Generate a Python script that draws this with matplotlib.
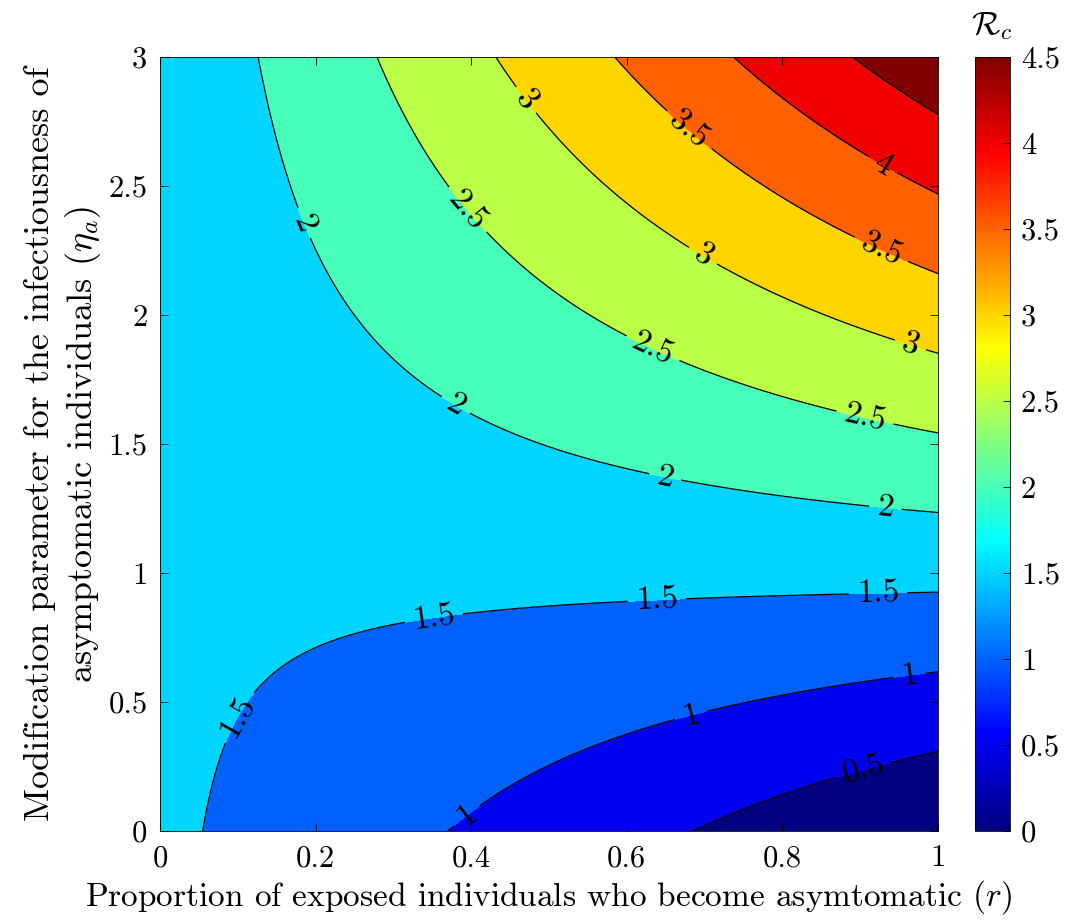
import numpy as np
import matplotlib
matplotlib.use("Agg")
import matplotlib.pyplot as plt
from matplotlib import cm, colors as mcolors

# ---- data ----
# R_c surface is bilinear in (r, eta_a): R_c = R0_sym*(1-r) + slope_asym*r*eta_a
R0_sym = 1.587        # value of R_c at r = 0 (all symptomatic)
slope_asym = 1.62     # dR_c/d(eta_a) at r = 1
r_range = [0.0, 1.0]
eta_range = [0.0, 3.0]
levels = [0, 0.5, 1.0, 1.5, 2.0, 2.5, 3.0, 3.5, 4.0, 4.5, 5.0]
line_levels = [0.5, 1.0, 1.5, 2.0, 2.5, 3.0, 3.5, 4.0, 4.5]
cbar_ticks = [0, 0.5, 1, 1.5, 2, 2.5, 3, 3.5, 4, 4.5]
x_ticks = [0, 0.2, 0.4, 0.6, 0.8, 1]
y_ticks = [0, 0.5, 1, 1.5, 2, 2.5, 3]
cmax = 4.5

# label anchor points (layout)
label_pos = [(0.469, 2.83), (0.681, 2.72), (0.929, 2.58), (0.18, 2.35), (0.396, 2.41),
             (0.698, 2.23), (0.925, 2.24), (0.632, 1.86), (0.964, 1.88), (0.38, 1.65),
             (0.906, 1.60), (0.649, 1.37), (0.932, 1.24), (0.639, 0.88), (0.923, 0.90),
             (0.353, 0.81), (0.096, 0.45), (0.964, 0.59), (0.685, 0.42), (0.379, 0.12),
             (0.906, 0.22)]

plt.rcParams['font.family'] = ['cmr10', 'DejaVu Serif']
plt.rcParams['mathtext.fontset'] = 'cm'
plt.rcParams['axes.formatter.use_mathtext'] = True

# MATLAB-style jet colormap
mjet = mcolors.LinearSegmentedColormap('mjet', {
    'red':   [(0, 0, 0), (0.375, 0, 0), (0.625, 1, 1), (0.875, 1, 1), (1, 0.5, 0.5)],
    'green': [(0, 0, 0), (0.125, 0, 0), (0.375, 1, 1), (0.625, 1, 1), (0.875, 0, 0), (1, 0, 0)],
    'blue':  [(0, 0.5, 0.5), (0.125, 1, 1), (0.375, 1, 1), (0.625, 0, 0), (1, 0, 0)],
}, N=256)

r = np.linspace(r_range[0], r_range[1], 301)
eta = np.linspace(eta_range[0], eta_range[1], 301)
R, E = np.meshgrid(r, eta)
Z = R0_sym * (1 - R) + slope_asym * R * E

fig = plt.figure(figsize=(10.70, 9.24), dpi=100)
ax = fig.add_axes([0.1495, 0.1006, 0.7271, 0.8377])
cax = fig.add_axes([0.911, 0.1006, 0.0327, 0.8377])

fill_colors = [mjet(min(lv / cmax, 1.0)) for lv in levels[:-1]]
ax.contourf(R, E, Z, levels=levels, colors=fill_colors)
cs = ax.contour(R, E, Z, levels=line_levels, colors='k', linewidths=0.9)
ax.clabel(cs, levels=line_levels[:-1], manual=label_pos, inline=True,
          inline_spacing=8, fontsize=24, fmt=lambda v: f"{v:g}")

ax.set_xlim(r_range)
ax.set_ylim(eta_range)
ax.set_xticks(x_ticks)
ax.set_yticks(y_ticks)
ax.set_xticklabels([f"{v:g}" for v in x_ticks])
ax.set_yticklabels([f"{v:g}" for v in y_ticks])
ax.tick_params(direction='in', length=6, width=0.6, labelsize=22,
               top=True, right=True)
ax.tick_params(axis='x', pad=10)
ax.tick_params(axis='y', pad=9)
for s in ax.spines.values():
    s.set_linewidth(0.6)

ax.set_xlabel(r"Proportion of exposed individuals who become asymtomatic $(r)$",
              fontsize=24, labelpad=4)
ax.set_ylabel("Modification parameter for the infectiousness of\n"
              r"asymptomatic individuals $(\eta_a)$", fontsize=26, labelpad=4,
              linespacing=1.25)

sm = cm.ScalarMappable(norm=mcolors.Normalize(0, cmax), cmap=mjet)
cb = fig.colorbar(sm, cax=cax, ticks=cbar_ticks)
cb.ax.set_yticklabels([f"{v:g}" for v in cbar_ticks])
cb.ax.tick_params(direction='in', length=5, width=0.6, labelsize=22, pad=8)
cb.outline.set_linewidth(0.6)
cax.set_title(r"$\mathcal{R}_c$", fontsize=24, pad=16)

fig.savefig("out.png", dpi=100)
